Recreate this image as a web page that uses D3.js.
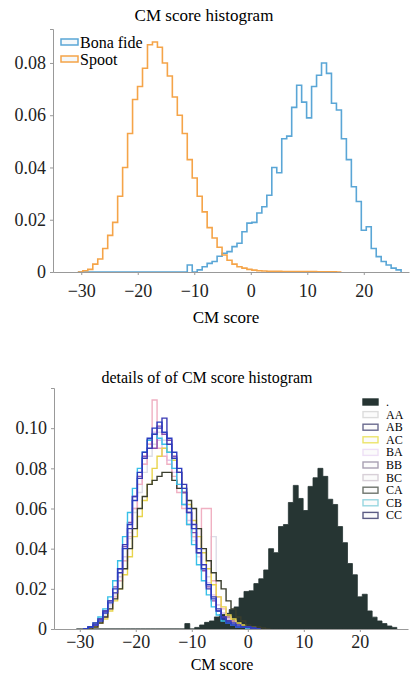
<!DOCTYPE html>
<html>
<head>
<meta charset="utf-8">
<script src="https://cdn.jsdelivr.net/npm/d3@7"></script>
<style>
  body { margin: 0; background: #fff; }
  svg { display: block; font-family: 'Liberation Serif', 'DejaVu Serif', serif; }
  .axis path, .axis line { stroke: #999; }
  .axis text { fill: #222; }
</style>
</head>
<body>
<div id="visualization"></div>
<script>
// histogram bins: left edge of first bin and bin width (CM score units)
var binStart = -30.6,
    detailBinStart = -29.4,
    binWidth = 0.88;

var xTicks = [-30, -20, -10, 0, 10, 20];
var yTicksTop = [0, 0.02, 0.04, 0.06, 0.08];
var yTicksBottom = [0, 0.02, 0.04, 0.06, 0.08, 0.10];

// top chart series
var bonaFide = [0, 0, 0, 0, 0, 0, 0, 0, 0, 0, 0, 0, 0, 0, 0, 0, 0, 0, 0, 0, 0, 0,
    0.0027, 0, 0.0008, 0.002, 0.0033, 0.004, 0.006, 0.0072, 0.0078, 0.0097, 0.011,
    0.0154, 0.0187, 0.019, 0.0226, 0.025, 0.0294, 0.040, 0.038, 0.051, 0.052, 0.063,
    0.0715, 0.065, 0.059, 0.071, 0.0753, 0.080, 0.076, 0.0646, 0.062, 0.051, 0.043,
    0.0326, 0.027, 0.016, 0.0173, 0.009, 0.0059, 0.004, 0.0027, 0.0015, 0.0008];

var spoof = [0, 0.0005, 0.001, 0.003, 0.005, 0.009, 0.014, 0.019, 0.029, 0.040, 0.053,
    0.066, 0.071, 0.078, 0.087, 0.088, 0.086, 0.080, 0.075, 0.067, 0.060, 0.053, 0.043,
    0.036, 0.029, 0.023, 0.017, 0.013, 0.0095, 0.0065, 0.0045, 0.003, 0.002, 0.0015,
    0.001, 0.0007, 0.0005, 0.0004, 0.0003, 0.0003, 0.0003, 0.0002, 0.0002, 0.0002,
    0.0002, 0.0002, 0.0002, 0.0002, 0.0001, 0.0001, 0.0001, 0.0001, 0];

// bottom chart: per-attack spoof histograms
var detailNames = ['AA', 'AB', 'AC', 'BA', 'BB', 'BC', 'CA', 'CB', 'CC'];
var detailAA = [0, 0.001, 0.002, 0.004, 0.007, 0.011, 0.017, 0.024, 0.034, 0.045, 0.058, 0.068, 0.078, 0.086, 0.092, 0.098, 0.094, 0.088, 0.080, 0.072, 0.062, 0.052, 0.044, 0.036, 0.030, 0.026, 0.046, 0.012, 0.008, 0.005, 0.003, 0.002, 0.001, 0.001, 0];
var detailAB = [0, 0.001, 0.002, 0.004, 0.008, 0.013, 0.020, 0.030, 0.040, 0.052, 0.064, 0.078, 0.088, 0.095, 0.100, 0.103, 0.098, 0.095, 0.088, 0.080, 0.070, 0.060, 0.050, 0.040, 0.030, 0.022, 0.015, 0.009, 0.005, 0.003, 0.002, 0.001, 0.001, 0.001, 0.0005, 0];
var detailAC = [0, 0, 0.001, 0.003, 0.005, 0.009, 0.014, 0.020, 0.027, 0.036, 0.046, 0.056, 0.064, 0.072, 0.080, 0.086, 0.090, 0.088, 0.084, 0.078, 0.070, 0.062, 0.054, 0.046, 0.038, 0.030, 0.022, 0.016, 0.011, 0.007, 0.005, 0.003, 0.002, 0.001, 0.001, 0];
var detailBA = [0, 0.001, 0.002, 0.004, 0.008, 0.012, 0.018, 0.026, 0.036, 0.048, 0.060, 0.072, 0.082, 0.092, 0.098, 0.094, 0.090, 0.084, 0.078, 0.070, 0.062, 0.054, 0.046, 0.038, 0.030, 0.023, 0.017, 0.012, 0.008, 0.005, 0.003, 0.002, 0.001, 0.001, 0];
var detailBB = [0, 0.001, 0.002, 0.005, 0.009, 0.014, 0.021, 0.030, 0.041, 0.053, 0.066, 0.076, 0.086, 0.094, 0.090, 0.101, 0.097, 0.094, 0.086, 0.078, 0.068, 0.058, 0.048, 0.038, 0.029, 0.021, 0.014, 0.009, 0.006, 0.004, 0.002, 0.001, 0.001, 0.0005, 0];
var detailBC = [0, 0, 0.001, 0.003, 0.006, 0.010, 0.016, 0.024, 0.034, 0.046, 0.060, 0.072, 0.082, 0.092, 0.114, 0.090, 0.086, 0.082, 0.076, 0.068, 0.060, 0.052, 0.046, 0.040, 0.060, 0.060, 0.024, 0.016, 0.010, 0.006, 0.004, 0.002, 0.001, 0.001, 0];
var detailCA = [0, 0, 0.001, 0.003, 0.006, 0.010, 0.015, 0.020, 0.030, 0.040, 0.050, 0.060, 0.066, 0.072, 0.074, 0.076, 0.078, 0.078, 0.074, 0.070, 0.068, 0.064, 0.060, 0.050, 0.040, 0.034, 0.028, 0.024, 0.020, 0.014, 0.010, 0.006, 0.004, 0.002, 0.001, 0.001, 0.0005, 0];
var detailCB = [0, 0.001, 0.003, 0.006, 0.010, 0.016, 0.024, 0.034, 0.046, 0.058, 0.070, 0.080, 0.088, 0.094, 0.097, 0.095, 0.092, 0.088, 0.080, 0.072, 0.062, 0.052, 0.042, 0.032, 0.024, 0.017, 0.011, 0.007, 0.004, 0.003, 0.002, 0.001, 0.001, 0];
var detailCC = [0, 0.001, 0.003, 0.005, 0.009, 0.014, 0.018, 0.028, 0.042, 0.050, 0.066, 0.075, 0.085, 0.090, 0.097, 0.100, 0.105, 0.092, 0.085, 0.078, 0.072, 0.058, 0.052, 0.038, 0.032, 0.020, 0.016, 0.010, 0.006, 0.004, 0.003, 0.002, 0.001, 0.001, 0.0005, 0];

var detailColors = ['#dcdce6', '#2a3cc0', '#e8d44c', '#e2c4f0', '#8a4fb0', '#f0b0c2', '#3a3e2e', '#38c0e8', '#3a3ab4'];
var detailLegendColors = ['#dcdcdc', '#6a6a8e', '#ece46a', '#eee0f6', '#a8a0b2', '#d8d0d8', '#6e746c', '#98d6e0', '#5c5c84'];

var width = 418,
    height = 675;

var svg = d3.select('#visualization')
    .append('svg')
    .attr('width', width)
    .attr('height', height);

// turn bin heights into step-outline points
function stepPoints(values, start) {
    var pts = [[start, 0]];
    values.forEach(function(v, i) {
        pts.push([start + i * binWidth, v]);
    });
    pts.push([start + values.length * binWidth, 0]);
    return pts;
}

function drawAxes(g, x, y, yTicks, yFormat, xPad) {
    g.append('g')
        .attr('class', 'axis')
        .attr('transform', 'translate(0,' + y.range()[0] + ')')
        .call(d3.axisBottom(x).tickValues(xTicks).tickSize(3).tickSizeOuter(0).tickPadding(xPad)
            .tickFormat(d3.format('d')))
        .attr('font-family', "'Liberation Serif', serif")
        .attr('font-size', 18);
    g.append('g')
        .attr('class', 'axis')
        .attr('transform', 'translate(' + x.range()[0] + ',0)')
        .call(d3.axisLeft(y).tickValues(yTicks).tickSize(3).tickSizeOuter(3).tickPadding(4)
            .tickFormat(yFormat))
        .attr('font-family', "'Liberation Serif', serif")
        .attr('font-size', 18);
}

function yFmt(d) {
    return d === 0 ? '0' : d3.format('.2f')(d);
}

// ---------- top chart ----------
var xTop = d3.scaleLinear().domain([-35, 28]).range([53, 409]);
var yTop = d3.scaleLinear().domain([0, 0.093]).range([272, 29]);

var topChart = svg.append('g');

var lineTop = d3.line()
    .x(function(d) { return xTop(d[0]); })
    .y(function(d) { return yTop(d[1]); })
    .curve(d3.curveStepAfter);

topChart.append('path')
    .attr('d', lineTop(stepPoints(bonaFide, binStart)))
    .attr('fill', 'none')
    .attr('stroke', '#5aa6d6')
    .attr('stroke-width', 1.6);

topChart.append('path')
    .attr('d', lineTop(stepPoints(spoof, binStart)))
    .attr('fill', 'none')
    .attr('stroke', '#f5a448')
    .attr('stroke-width', 1.6);

drawAxes(topChart, xTop, yTop, yTicksTop, yFmt, 9);

topChart.append('text')
    .attr('text-anchor', 'middle')
    .attr('x', 204)
    .attr('y', 21)
    .style('font-size', '17px')
    .text('CM score histogram');

topChart.append('text')
    .attr('text-anchor', 'middle')
    .attr('x', 226)
    .attr('y', 323)
    .style('font-size', '17px')
    .text('CM score');

// top legend
var topLegend = [['Bona fide', '#5aa6d6'], ['Spoot', '#f5a448']];
topLegend.forEach(function(d, i) {
    topChart.append('rect')
        .attr('x', 61)
        .attr('y', 39 + i * 17)
        .attr('width', 17)
        .attr('height', 6)
        .attr('fill', '#f4f8fb')
        .attr('stroke', d[1])
        .attr('stroke-width', 1.5);
    topChart.append('text')
        .attr('x', 80)
        .attr('y', 47.5 + i * 17)
        .style('font-size', '16px')
        .text(d[0]);
});

// ---------- bottom chart ----------
var xBot = d3.scaleLinear().domain([-34.6, 28.6]).range([54, 408]);
var yBot = d3.scaleLinear().domain([0, 0.12]).range([629, 388]);

var botChart = svg.append('g');

var lineBot = d3.line()
    .x(function(d) { return xBot(d[0]); })
    .y(function(d) { return yBot(d[1]); })
    .curve(d3.curveStepAfter);

var areaBot = d3.area()
    .x(function(d) { return xBot(d[0]); })
    .y0(yBot(0))
    .y1(function(d) { return yBot(d[1]); })
    .curve(d3.curveStepAfter);

botChart.append('path')
    .attr('d', areaBot(stepPoints(bonaFide, binStart)))
    .attr('fill', '#263533')
    .attr('stroke', '#263533')
    .attr('stroke-width', 0.8);

var details = [detailAA, detailAB, detailAC, detailBA, detailBB, detailBC, detailCA, detailCB, detailCC];
// draw light ones first so the darker outlines sit on top
var drawOrder = [0, 3, 5, 2, 6, 4, 7, 8, 1];
drawOrder.forEach(function(i) {
    botChart.append('path')
        .attr('d', lineBot(stepPoints(details[i], detailBinStart)))
        .attr('fill', 'none')
        .attr('stroke', detailColors[i])
        .attr('stroke-width', 1.4);
});

drawAxes(botChart, xBot, yBot, yTicksBottom, yFmt, 3);

botChart.append('text')
    .attr('text-anchor', 'middle')
    .attr('x', 207)
    .attr('y', 383)
    .style('font-size', '16px')
    .text('details of of CM score histogram');

botChart.append('text')
    .attr('text-anchor', 'middle')
    .attr('x', 222)
    .attr('y', 670)
    .style('font-size', '16px')
    .text('CM score');

// bottom legend
var botLegend = [['.', '#263533', true]].concat(detailNames.map(function(n, i) {
    return [n, detailLegendColors[i], false];
}));
botLegend.forEach(function(d, i) {
    var cy = 402 + i * 12.6;
    botChart.append('rect')
        .attr('x', 363)
        .attr('y', cy - 3)
        .attr('width', 15)
        .attr('height', 6)
        .attr('fill', d[2] ? d[1] : '#fbfbfb')
        .attr('stroke', d[1])
        .attr('stroke-width', 1.4);
    botChart.append('text')
        .attr('x', 386)
        .attr('y', cy + 4)
        .style('font-size', '12px')
        .text(d[0]);
});
</script>
</body>
</html>
